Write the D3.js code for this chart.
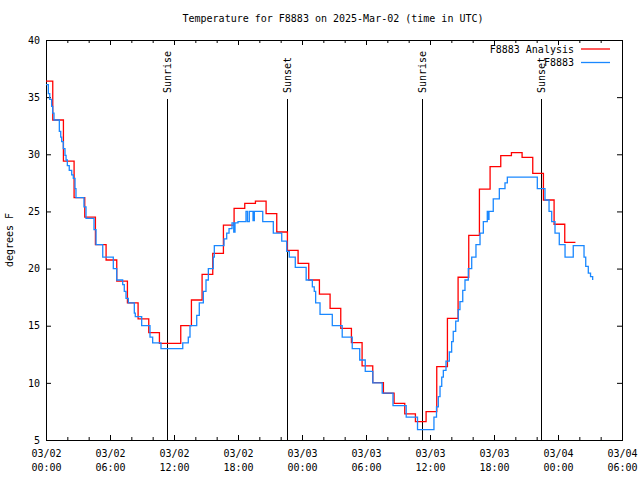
<!DOCTYPE html>
<html><head><meta charset="utf-8">
<script src="https://cdn.jsdelivr.net/npm/d3@7/dist/d3.min.js"></script>
<style>
body{margin:0;background:#fff}
svg{display:block}
text{font-family:"DejaVu Sans Mono",monospace;font-size:10px;fill:#000}
</style>
</head><body>
<script>
// ---------- data ----------
const titleText = "Temperature for F8883 on 2025-Mar-02 (time in UTC)";
const yLabelText = "degrees F";
const domainStart = "2025-03-02T00:00:00Z";
const domainEnd = "2025-03-04T06:00:00Z";
const yTicks = [5, 10, 15, 20, 25, 30, 35, 40];
const seriesNames = ["F8883 Analysis", "F8883"];
const seriesColors = ["#ff0000", "#1a88ff"];

// Analysis: hourly values, each step beginning at HH:38 of previous hour
const analysisFirstStep = "2025-03-02T00:38:00Z";
const analysisTemps = [36.4, 33.0, 29.4, 26.2, 24.5, 22.1, 20.75, 18.9, 17.0, 15.6,
  14.4, 13.46, 13.46, 15.0, 17.25, 19.5, 21.33, 23.8, 25.27, 25.7,
  25.9, 24.8, 23.2, 21.6, 20.46, 19.0, 17.77, 16.52, 14.77, 13.52,
  11.48, 10.02, 9.09, 8.21, 7.28, 6.6, 7.48, 11.42, 15.65, 19.24,
  22.9, 26.95, 28.92, 29.88, 30.15, 29.73, 28.33, 26.0, 23.88, 22.3];

// Observations: hours after domainStart, temperature
const obsHours = [0.00,0.22,0.35,0.53,0.63,0.75,1.25,1.38,1.47,1.62,
  1.78,1.88,2.00,2.18,2.41,2.56,2.72,2.81,3.56,3.75,
  4.50,4.69,5.32,6.31,6.63,7.19,7.34,7.50,7.72,8.28,
  8.37,8.97,9.75,10.00,10.78,12.82,13.34,13.50,14.13,14.37,
  14.75,15.00,15.22,15.68,15.78,16.69,16.94,17.16,17.44,17.60,
  17.72,18.00,18.75,18.89,19.06,19.41,19.53,20.32,21.31,22.10,
  22.57,22.81,23.37,24.39,24.97,25.15,25.28,25.69,26.84,27.77,
  28.71,29.41,29.93,30.64,31.52,32.53,33.77,34.83,36.37,36.61,
  36.78,36.94,37.10,37.25,37.50,37.81,38.03,38.18,38.41,38.65,
  38.81,39.07,39.28,39.59,39.91,40.31,40.69,41.00,41.37,41.44,
  41.53,41.93,42.50,43.03,43.25,46.06,46.78,47.16,47.41,47.72,
  48.12,48.66,49.43,50.44,50.60,50.84,51.05,51.25];
const obsTemps = [36.1,35.3,34.8,34.2,33.6,33.0,32.0,31.5,31.1,30.5,
  29.9,29.5,29.0,28.6,28.2,27.9,27.0,26.2,25.4,24.4,
  23.4,22.1,21.0,20.0,19.0,18.6,18.0,17.4,17.0,16.1,
  15.8,15.0,14.0,13.5,13.0,13.5,14.0,15.0,15.9,17.0,
  18.0,19.0,20.0,21.0,22.0,22.6,23.1,23.5,24.0,23.2,
  24.0,24.1,25.0,24.1,25.0,24.2,25.0,24.1,23.1,22.4,
  21.5,21.0,20.1,19.0,18.4,18.0,17.0,16.0,15.0,14.0,
  13.0,12.0,11.0,10.0,9.1,8.0,7.0,5.9,7.0,7.9,
  8.8,9.7,10.5,11.1,11.9,12.7,13.6,14.5,15.4,16.4,
  17.1,18.1,19.0,20.0,21.0,22.1,23.1,24.1,25.0,24.3,
  25.0,26.1,27.0,27.5,28.0,27.0,26.0,25.0,24.1,23.1,
  22.1,21.0,22.0,21.0,20.2,19.6,19.3,19.0];

const sunLabels = ["Sunrise", "Sunset", "Sunrise", "Sunset"];
const sunTimes = ["2025-03-02T11:22:00Z", "2025-03-02T22:34:00Z",
                  "2025-03-03T11:17:00Z", "2025-03-03T22:27:00Z"];

// ---------- layout ----------
const W = 640, H = 480;
const M = {left: 46, right: 622, top: 40, bottom: 440};
const HOUR = 3600e3;

const t0 = new Date(domainStart), t1 = new Date(domainEnd);
const x = d3.scaleUtc().domain([t0, t1]).range([M.left, M.right]);
const y = d3.scaleLinear().domain([5, 40]).range([M.bottom, M.top]);

const svg = d3.select("body").append("svg").attr("width", W).attr("height", H);

// title
svg.append("text").attr("x", 333).attr("y", 22).attr("text-anchor", "middle").text(titleText);

// y label
svg.append("text").attr("transform", "translate(13,240) rotate(-90)")
  .attr("text-anchor", "middle").text(yLabelText);

function clean(g){ g.select(".domain").remove(); g.selectAll("line").attr("stroke","#000"); g.selectAll("text").attr("fill","#000"); }

// y axes
svg.append("g").attr("transform", `translate(${M.left},0)`)
  .call(d3.axisLeft(y).tickValues(yTicks).tickSize(-5).tickPadding(6).tickFormat(d3.format("d")))
  .call(clean).call(g => g.selectAll("text").style("font-family", "DejaVu Sans Mono").style("font-size", "10px"));
svg.append("g").attr("transform", `translate(${M.right},0)`)
  .call(d3.axisRight(y).tickValues(yTicks).tickSize(-5).tickFormat(""))
  .call(clean);

// x axes
const majorTicks = d3.utcHour.every(6).range(t0, new Date(+t1 + 1));
const minorTicks = d3.utcHour.every(2).range(t0, new Date(+t1 + 1)).filter(d => d.getUTCHours() % 6 !== 0);
const fmtD = d3.utcFormat("%m/%d"), fmtT = d3.utcFormat("%H:%M");

const xb = svg.append("g").attr("transform", `translate(0,${M.bottom})`)
  .call(d3.axisBottom(x).tickValues(majorTicks).tickSize(-5).tickPadding(10).tickFormat(""))
  .call(clean);
xb.selectAll(".tick").each(function(d){
  const t = d3.select(this).append("text").attr("text-anchor","middle").attr("fill","#000")
    .style("font-family","DejaVu Sans Mono").style("font-size","10px");
  t.append("tspan").attr("x",0).attr("y",17).text(fmtD(d));
  t.append("tspan").attr("x",0).attr("y",31).text(fmtT(d));
});
svg.append("g").attr("transform", `translate(0,${M.bottom})`)
  .call(d3.axisBottom(x).tickValues(minorTicks).tickSize(-3).tickFormat("")).call(clean);
svg.append("g").attr("transform", `translate(0,${M.top})`)
  .call(d3.axisTop(x).tickValues(majorTicks).tickSize(-5).tickFormat("")).call(clean);
svg.append("g").attr("transform", `translate(0,${M.top})`)
  .call(d3.axisTop(x).tickValues(minorTicks).tickSize(-3).tickFormat("")).call(clean);

// border
svg.append("rect").attr("x", M.left + 0.5).attr("y", M.top + 0.5)
  .attr("width", M.right - M.left).attr("height", M.bottom - M.top)
  .attr("fill", "none").attr("stroke", "#000").attr("stroke-width", 1);

// sunrise / sunset
sunTimes.forEach((s, i) => {
  const xp = Math.round(x(new Date(s))) + 0.5;
  svg.append("line").attr("x1", xp).attr("x2", xp).attr("y1", 99).attr("y2", M.bottom)
    .attr("stroke", "#000").attr("stroke-width", 1);
  svg.append("text").attr("transform", `translate(${xp + 3.5},93) rotate(-90)`)
    .attr("text-anchor", "start").text(sunLabels[i]);
});

// series data
const a0 = new Date(analysisFirstStep);
const analysis = analysisTemps.map((v, i) => ({
  t: i === 0 ? t0 : new Date(+a0 + (i - 1) * HOUR), v
}));
analysis.push({t: new Date(+a0 + (analysisTemps.length - 1) * HOUR), v: analysisTemps[analysisTemps.length - 1]});
const obs = obsHours.map((h, i) => ({t: new Date(+t0 + h * HOUR), v: obsTemps[i]}));

const line = d3.line().x(d => x(d.t)).y(d => y(d.v)).curve(d3.curveStepAfter);

svg.append("path").datum(analysis).attr("d", line).attr("fill", "none")
  .attr("stroke", seriesColors[0]).attr("stroke-width", 1.3);
svg.append("path").datum(obs).attr("d", line).attr("fill", "none")
  .attr("stroke", seriesColors[1]).attr("stroke-width", 1.3);

// legend
seriesNames.forEach((n, i) => {
  const ly = 49 + i * 13.5;
  svg.append("text").attr("x", 574).attr("y", ly).attr("dy", "0.35em").attr("text-anchor", "end").text(n);
  svg.append("line").attr("x1", 581).attr("x2", 610).attr("y1", ly).attr("y2", ly)
    .attr("stroke", seriesColors[i]).attr("stroke-width", 1.3);
});
</script>
</body></html>
